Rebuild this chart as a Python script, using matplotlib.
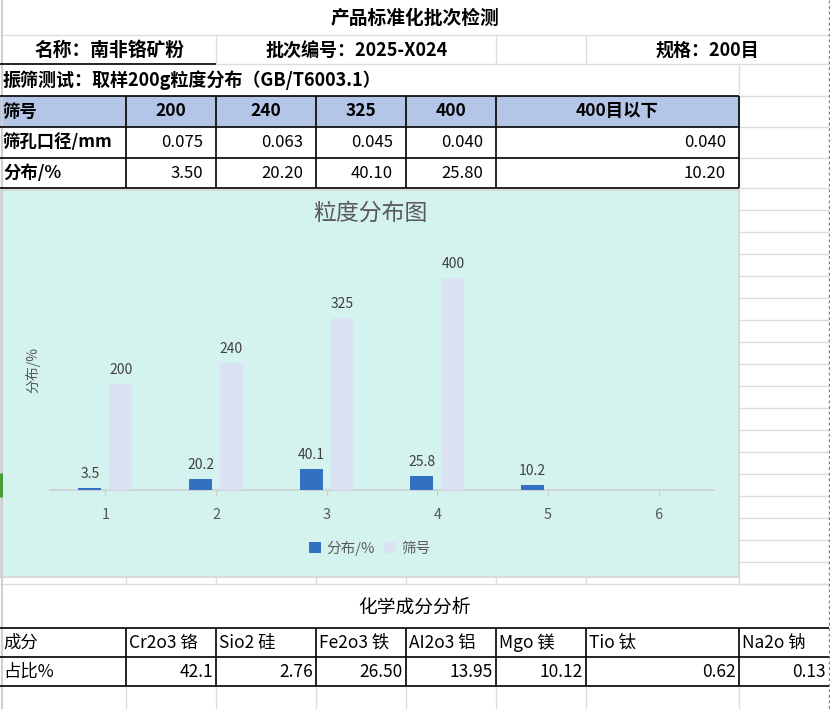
#!/usr/bin/env python3
#
import matplotlib.pyplot as plt
import numpy as np
from matplotlib.patches import Rectangle

plt.rcParams['font.family'] = ['Noto Sans CJK SC', 'DejaVu Sans']

TITLE = '产品标准化批次检测'
NAME = '名称：南非铬矿粉'
BATCH = '批次编号：2025-X024'
SPEC = '规格：200目'
TEST = '振筛测试：取样200g粒度分布（GB/T6003.1）'

row_labels = ['筛号', '筛孔口径/mm', '分布/%']
sieve_nums = ['200', '240', '325', '400', '400目以下']
apertures = [0.075, 0.063, 0.045, 0.040, 0.040]
distribution = [3.50, 20.20, 40.10, 25.80, 10.20]

chart_title = '粒度分布图'
categories = ['1', '2', '3', '4', '5', '6']
series_dist = [3.5, 20.2, 40.1, 25.8, 10.2, np.nan]
series_sieve = [200, 240, 325, 400, np.nan, np.nan]

chem_title = '化学成分分析'
chem_names = ['Cr2o3 铬', 'Sio2 硅', 'Fe2o3 铁', 'AI2o3 铝', 'Mgo 镁', 'Tio 钛', 'Na2o 钠']
chem_values = ['42.1', '2.76', '26.50', '13.95', '10.12', '0.62', '0.13']

W, H = 830, 709
COLS = [0, 126, 216, 316, 406, 496, 586, 739, 829]
GRID = '#dcdcdc'
BLUE = '#3270c2'
LIGHT = '#dae2f4'
FS = 12.5


def hline(ax, y, x0, x1, color='black', lw=1.2, **kw):
  ax.plot([x0, x1], [y, y], color=color, lw=lw, solid_capstyle='butt', **kw)


def vline(ax, x, y0, y1, color='black', lw=1.2, **kw):
  ax.plot([x, x], [y0, y1], color=color, lw=lw, solid_capstyle='butt', **kw)


def sheet(fig):
  ax = fig.add_axes([0, 0, 1, 1])
  ax.set_xlim(0, W)
  ax.set_ylim(H, 0)
  ax.axis('off')

  # spreadsheet gridlines
  hline(ax, 35, 0, 829, GRID, 1)
  for x in (216, 496, 586):
    vline(ax, x, 35, 64, GRID, 1)
  hline(ax, 64, 216, 829, GRID, 1)
  vline(ax, 739, 64, 584, GRID, 1)
  for y in (96, 127, 158):
    hline(ax, y, 739, 829, GRID, 1)
  for y in np.arange(188, 585, 22):
    hline(ax, y, 739, 829, GRID, 1)
  hline(ax, 584, 0, 829, GRID, 1)
  for x in COLS[1:7]:
    vline(ax, x, 576, 584, GRID, 1)
    vline(ax, x, 686, 709, GRID, 1)
  vline(ax, 739, 686, 709, GRID, 1)
  vline(ax, 1.5, 0, 709, '#d0d0d0', 1.5)
  vline(ax, 829, 0, 709, '#808080', 1, linestyle=(0, (2, 2)))
  vline(ax, 0.8, 473, 497, '#3a9a2a', 2)

  # header rows
  ax.text(415, 18, TITLE, ha='center', va='center', fontsize=13.5, fontweight='bold')
  ax.text(109, 50, NAME, ha='center', va='center', fontsize=13.5, fontweight='bold')
  ax.text(357, 50, BATCH, ha='center', va='center', fontsize=13, fontweight='bold')
  ax.text(707, 50, SPEC, ha='center', va='center', fontsize=13, fontweight='bold')
  hline(ax, 64, 0, 216)
  ax.text(3, 80, TEST, ha='left', va='center', fontsize=13, fontweight='bold')

  # sieve table
  ax.add_patch(Rectangle((0, 96), 739, 31, facecolor='#b4c6e7', edgecolor='none'))
  rows = [96, 127, 158, 188]
  for y in rows:
    hline(ax, y, 0, 739)
  for x in COLS[1:6] + [739]:
    vline(ax, x, 96, 188)
  for i, lab in enumerate(row_labels):
    ax.text(3, (rows[i] + rows[i + 1]) / 2, lab, ha='left', va='center',
            fontsize=FS, fontweight='bold')
  edges = COLS[1:6] + [739]
  for j, num in enumerate(sieve_nums):
    cx = (edges[j] + edges[j + 1]) / 2
    ax.text(cx, 111.5, num, ha='center', va='center', fontsize=FS, fontweight='bold')
    ax.text(edges[j + 1] - 13, 142.5, f'{apertures[j]:.3f}', ha='right', va='center', fontsize=12)
    ax.text(edges[j + 1] - 13, 173, f'{distribution[j]:.2f}', ha='right', va='center', fontsize=12)

  # chart background
  ax.add_patch(Rectangle((0, 190), 739, 387, facecolor='#d4f3ef', edgecolor='#d6d6d6', lw=1.2))

  # chemistry table
  ax.text(414, 607, chem_title, ha='center', va='center', fontsize=13.5)
  for y in (628, 657, 686):
    hline(ax, y, 0, 829)
  for x in COLS[1:8]:
    vline(ax, x, 628, 686)
  ax.text(3, 643, '成分', ha='left', va='center', fontsize=FS)
  ax.text(3, 672, '占比%', ha='left', va='center', fontsize=FS)
  for j, name in enumerate(chem_names):
    ax.text(COLS[j + 1] + 3, 643, name, ha='left', va='center', fontsize=FS)
    ax.text(COLS[j + 2] - 3, 672, chem_values[j], ha='right', va='center', fontsize=FS)
  return ax


def chart(fig):
  axc = fig.add_axes([50 / W, 1 - 490 / H, 664 / W, 265 / H])
  axc.set_facecolor('none')
  xpos = np.arange(len(categories))
  b1 = axc.bar(xpos - 0.14, series_dist, width=0.21, color=BLUE, label='分布/%', zorder=3)
  b2 = axc.bar(xpos + 0.14, series_sieve, width=0.21, color=LIGHT, label='筛号', zorder=3)
  axc.bar_label(b1, labels=[f'{v:g}' if not np.isnan(v) else '' for v in series_dist],
                padding=5, fontsize=10, color='#404040')
  axc.bar_label(b2, labels=[f'{v:g}' if not np.isnan(v) else '' for v in series_sieve],
                padding=5, fontsize=10, color='#404040')
  axc.set_xlim(-0.5, len(categories) - 0.5)
  axc.set_ylim(0, 500)
  axc.set_yticks([])
  axc.set_xticks(xpos, categories)
  axc.tick_params(axis='x', length=4, width=1, color='#d0d0d0', labelcolor='#595959',
                  labelsize=10.5, pad=9)
  for side in ('top', 'left', 'right'):
    axc.spines[side].set_visible(False)
  axc.spines['bottom'].set_color('#d0d0d0')
  axc.spines['bottom'].set_linewidth(1.2)

  fig.text(370 / W, 1 - 213 / H, chart_title, ha='center', va='center', fontsize=16.5,
           color='#595959')
  fig.text(33 / W, 1 - 370 / H, '分布/%', ha='center', va='center', rotation=90,
           fontsize=10, color='#595959')
  fig.legend(handles=[b1, b2], loc='center', bbox_to_anchor=(370 / W, 1 - 548 / H), ncol=2,
             frameon=False, fontsize=10.5, labelcolor='#595959', handlelength=0.8,
             handleheight=0.8, handletextpad=0.4, columnspacing=0.6)


def main():
  fig = plt.figure(figsize=(W / 100, H / 100), dpi=100)
  fig.patch.set_facecolor('white')
  sheet(fig)
  chart(fig)
  fig.savefig('out.png', dpi=100)
  plt.close(fig)


if __name__ == '__main__':
  main()
